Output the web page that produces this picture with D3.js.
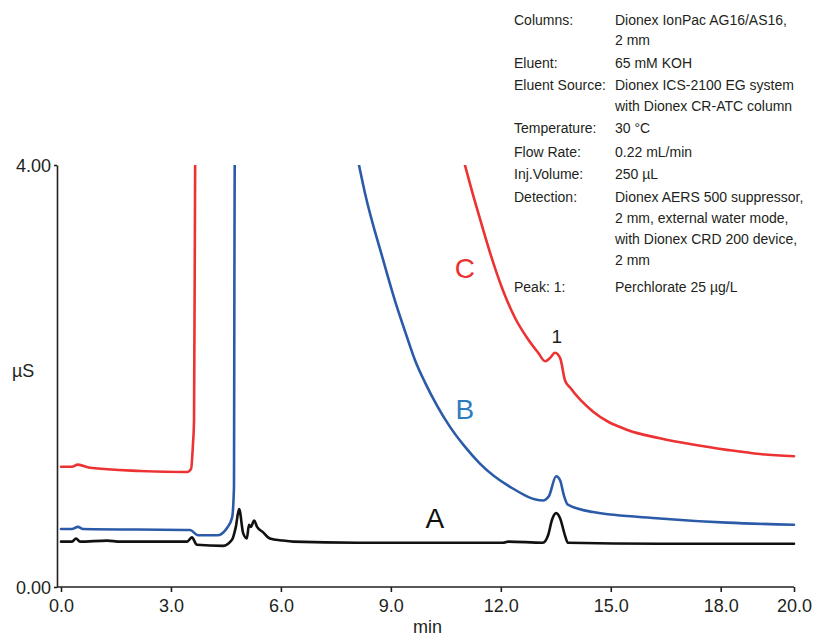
<!DOCTYPE html>
<html lang="en">
<head>
    <meta charset="UTF-8">
    <title>Perchlorate chromatograms</title>
    <script src="https://d3js.org/d3.v7.min.js"></script>
    <style>
        body {
            margin: 0;
            padding: 0;
            background: #fff;
        }

        .axis path,
        .axis line {
            stroke: #231f20;
            stroke-width: 1.6px;
        }

        .axis text {
            fill: #231f20;
            font-family: "Liberation Sans", Arial, sans-serif;
            font-size: 18px;
        }

        .info text {
            fill: #231f20;
            font-family: "Liberation Sans", Arial, sans-serif;
            font-size: 14px;
        }

        .trace {
            fill: none;
            stroke-width: 2.6px;
            stroke-linejoin: round;
            stroke-linecap: round;
        }
    </style>
</head>
<body>
    <svg id="chart"></svg>

    <script>
        // chromatogram traces, [time (min), conductivity (µS)]
        const traceA = [
            [0, 0.43], [0.30, 0.43], [0.41, 0.46], [0.52, 0.43], [1.26, 0.44], [1.61, 0.43],
            [3.44, 0.43], [3.57, 0.47], [3.71, 0.40], [4.42, 0.39], [4.67, 0.45], [4.77, 0.57],
            [4.86, 0.74], [4.97, 0.51], [5.07, 0.46], [5.13, 0.59], [5.18, 0.57], [5.27, 0.63],
            [5.35, 0.57], [5.51, 0.52], [5.70, 0.46], [6.06, 0.44], [6.33, 0.43], [8.08, 0.42],
            [12.06, 0.42], [12.20, 0.43], [13.15, 0.42], [13.29, 0.49], [13.40, 0.64], [13.51, 0.70],
            [13.62, 0.65], [13.75, 0.49], [13.83, 0.42], [16.34, 0.41], [20, 0.41]
        ];

        const traceB = [
            [0, 0.55], [0.30, 0.55], [0.46, 0.57], [0.60, 0.55], [3.52, 0.54], [3.74, 0.49],
            [4.26, 0.49], [4.53, 0.56], [4.67, 0.66], [4.72, 0.95], [4.73, 2.72], [4.75, 4.6],
            [8.01, 4.2], [8.13, 4.0], [8.29, 3.74], [8.79, 3.10], [9.17, 2.65], [9.42, 2.39],
            [9.66, 2.15], [9.93, 1.94], [10.26, 1.72], [10.61, 1.52], [11.02, 1.33], [11.43, 1.17],
            [12.25, 0.95], [13.15, 0.82], [13.31, 0.86], [13.51, 1.05], [13.62, 1.01], [13.72, 0.87],
            [13.83, 0.78], [14.52, 0.71], [16.34, 0.65], [18.17, 0.61], [20, 0.59]
        ];

        const traceC = [
            [0, 1.14], [0.30, 1.14], [0.46, 1.16], [0.79, 1.13], [2.16, 1.10], [3.44, 1.09],
            [3.55, 1.12], [3.60, 1.35], [3.63, 1.58], [3.66, 4.0], [3.67, 4.6], [10.86, 4.2],
            [11.02, 4.0], [11.24, 3.72], [11.49, 3.42], [11.76, 3.11], [12.06, 2.81], [12.39, 2.55],
            [12.72, 2.36], [13.02, 2.22], [13.21, 2.14], [13.34, 2.17], [13.48, 2.22], [13.62, 2.17],
            [13.75, 1.96], [13.89, 1.89], [14.52, 1.66], [15.44, 1.49], [16.34, 1.41], [17.24, 1.35],
            [18.17, 1.30], [19.07, 1.26], [20, 1.24]
        ];

        const xTicks = [0, 3, 6, 9, 12, 15, 18, 20];
        const yTicks = [0, 4];

        const infoLabels = ["Columns:", "", "Eluent:", "Eluent Source:", "", "Temperature:", "Flow Rate:",
            "Inj.Volume:", "Detection:", "", "", "", "Peak: 1:"];
        const infoValues = ["Dionex IonPac AG16/AS16,", "2 mm", "65 mM KOH", "Dionex ICS-2100 EG system",
            "with Dionex CR-ATC column", "30 °C", "0.22 mL/min", "250 µL", "Dionex AERS 500 suppressor,",
            "2 mm, external water mode,", "with Dionex CRD 200 device,", "2 mm", "Perchlorate 25 µg/L"];
        const infoRows = [25, 45, 68, 90, 111, 133, 157, 179, 202, 223, 244, 265, 292];

        const traces = [
            { name: "C", data: traceC, color: "#ec3232", labelColor: "#ec3232", label: [11.02, 2.93] },
            { name: "B", data: traceB, color: "#2b5ba8", labelColor: "#2e7cc0", label: [11.02, 1.59] },
            { name: "A", data: traceA, color: "#111111", labelColor: "#111111", label: [10.2, 0.56] }
        ];

        const W = 814, H = 638;
        const svg = d3.select("#chart").attr("width", W).attr("height", H);

        // plot area in pixels
        const xScale = d3.scaleLinear().domain([0, 20]).range([61, 794]);
        const yScale = d3.scaleLinear().domain([0, 4]).range([587, 165]);
        const axisX = 57;

        svg.append("clipPath").attr("id", "plot-clip")
            .append("rect")
            .attr("x", axisX).attr("y", yScale(4))
            .attr("width", 794 - axisX + 10).attr("height", yScale(0) - yScale(4));

        // info block, top right
        const info = svg.append("g").attr("class", "info");
        info.selectAll("text.lbl")
            .data(infoLabels)
            .join("text")
            .attr("class", "lbl")
            .attr("x", 514)
            .attr("y", (d, i) => infoRows[i])
            .text(d => d);
        info.selectAll("text.val")
            .data(infoValues)
            .join("text")
            .attr("class", "val")
            .attr("x", 615)
            .attr("y", (d, i) => infoRows[i])
            .text(d => d);

        // traces (monotone so the steep fronts don't overshoot)
        const line = d3.line()
            .x(d => xScale(d[0]))
            .y(d => yScale(d[1]))
            .curve(d3.curveMonotoneX);

        svg.append("g")
            .attr("clip-path", "url(#plot-clip)")
            .selectAll("path")
            .data(traces)
            .join("path")
            .attr("class", "trace")
            .attr("stroke", d => d.color)
            .attr("d", d => line(d.data));

        svg.selectAll("text.trace-label")
            .data(traces)
            .join("text")
            .attr("class", "trace-label")
            .attr("x", d => xScale(d.label[0]))
            .attr("y", d => yScale(d.label[1]))
            .attr("text-anchor", "middle")
            .attr("fill", d => d.labelColor)
            .style("font-family", "'Liberation Sans', Arial, sans-serif")
            .style("font-size", "28px")
            .text(d => d.name);

        // peak number
        svg.append("text")
            .attr("x", xScale(13.53))
            .attr("y", yScale(2.31))
            .attr("text-anchor", "middle")
            .style("font-family", "'Liberation Sans', Arial, sans-serif")
            .style("font-size", "19px")
            .attr("fill", "#231f20")
            .text("1");

        // x axis
        const xAxis = svg.append("g")
            .attr("class", "axis x-axis")
            .attr("transform", `translate(0,${yScale(0)})`)
            .call(d3.axisBottom(xScale).tickValues(xTicks).tickFormat(d3.format(".1f")).tickSize(5).tickSizeOuter(0))
            .call(g => g.select(".domain").attr("d", `M${axisX},0H${xScale(20)}`));
        xAxis.selectAll("text").attr("dy", "0.95em");

        // y axis
        svg.append("g")
            .attr("class", "axis y-axis")
            .attr("transform", `translate(${axisX},0)`)
            .call(d3.axisLeft(yScale).tickValues(yTicks).tickFormat(d3.format(".2f")).tickSize(3).tickSizeOuter(0))
            .selectAll("text").attr("x", -6).attr("dy", "0.36em");

        svg.append("text")
            .attr("x", 12)
            .attr("y", 377)
            .style("font-family", "'Liberation Sans', Arial, sans-serif")
            .style("font-size", "18px")
            .attr("fill", "#231f20")
            .text("µS");

        svg.append("text")
            .attr("x", (xScale(0) + xScale(20)) / 2)
            .attr("y", 633)
            .attr("text-anchor", "middle")
            .style("font-family", "'Liberation Sans', Arial, sans-serif")
            .style("font-size", "18px")
            .attr("fill", "#231f20")
            .text("min");
    </script>
</body>
</html>
